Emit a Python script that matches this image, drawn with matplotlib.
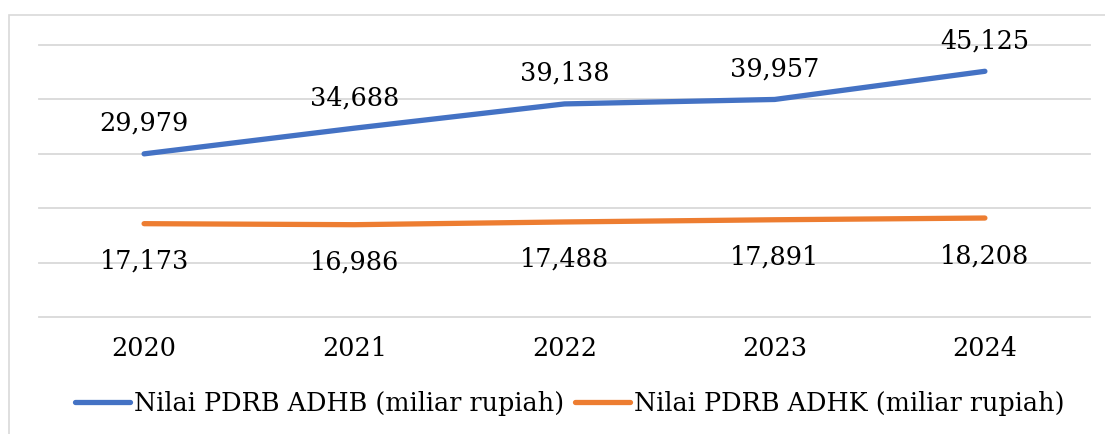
import matplotlib.pyplot as plt
from matplotlib.patches import Rectangle

years = ['2020', '2021', '2022', '2023', '2024']
adhb = [29979, 34688, 39138, 39957, 45125]
adhk = [17173, 16986, 17488, 17891, 18208]
labels = ['Nilai PDRB ADHB (miliar rupiah)', 'Nilai PDRB ADHK (miliar rupiah)']

blue = '#4472C4'
orange = '#ED7D31'
grid_col = '#D9D9D9'
fs = 18.4

plt.rcParams['font.family'] = ['DejaVu Serif']

W, H = 1105, 435
fig = plt.figure(figsize=(W / 100, H / 100), dpi=100)

# outer chart frame
fig.patches.append(Rectangle((9 / W, -0.05), 1.1, 1 - 16 / H + 0.05,
                             transform=fig.transFigure, fill=False,
                             edgecolor=grid_col, linewidth=1.2))

ax = fig.add_axes([39 / W, 1 - 318.3 / H, (1090 - 39) / W, (318.3 - 45.7) / H])
x = list(range(len(years)))

ax.plot(x, adhb, color=blue, linewidth=3.8, solid_capstyle='round', label=labels[0], zorder=3)
ax.plot(x, adhk, color=orange, linewidth=3.8, solid_capstyle='round', label=labels[1], zorder=3)

for i in x:
    ax.annotate(f'{adhb[i]:,}', (i, adhb[i]), xytext=(0, 24), textcoords='offset pixels',
                ha='center', va='baseline', fontsize=fs)
    ax.annotate(f'{adhk[i]:,}', (i, adhk[i]), xytext=(0, -44), textcoords='offset pixels',
                ha='center', va='baseline', fontsize=fs)

ax.set_xlim(-0.5, 4.5)
ax.set_ylim(0, 50000)
ax.set_yticks(range(0, 50001, 10000))
ax.set_yticklabels([])
ax.tick_params(axis='y', length=0)
ax.set_xticks(x)
ax.set_xticklabels(years, fontsize=fs)
ax.tick_params(axis='x', length=0, pad=13)
ax.grid(axis='y', color=grid_col, linewidth=1.3)
for gl in ax.get_ygridlines():
    gl.set_clip_on(False)
ax.set_axisbelow(True)
for s in ax.spines.values():
    s.set_visible(False)

fig.legend(loc='center', bbox_to_anchor=(569.5 / W, 1 - 404 / H), ncol=2, frameon=False,
           fontsize=fs, handlelength=2.15, handletextpad=0.15, columnspacing=0.43,
           borderpad=0, borderaxespad=0)

fig.savefig('out.png', dpi=100)
